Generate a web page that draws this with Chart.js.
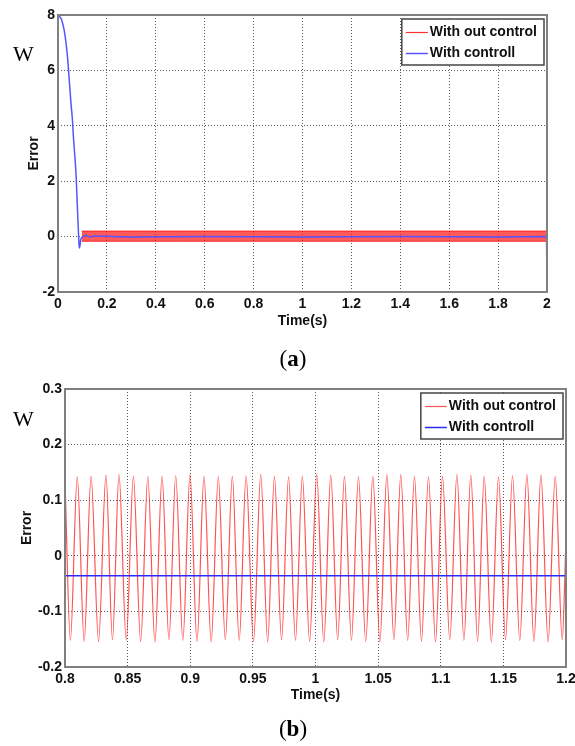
<!DOCTYPE html>
<html>
<head>
<meta charset="utf-8">
<style>
  html, body { margin: 0; padding: 0; background: #fff; }
  #wrap { position: relative; width: 575px; height: 746px; overflow: hidden; }
  canvas { position: absolute; left: 0; }
  .w { position: absolute; left: 13px; font: 22px/22px "Liberation Serif", "DejaVu Serif", serif; color: #000; }
  .cap { position: absolute; left: 243px; width: 100px; text-align: center; font: 23px/23px "Liberation Serif", "DejaVu Serif", serif; color: #000; }
</style>
</head>
<body>
<div id="wrap">
  <canvas id="chartA" width="575" height="340" style="top:0"></canvas>
  <canvas id="chartB" width="575" height="360" style="top:360px"></canvas>
  <div class="w" style="top:43px">W</div>
  <div class="w" style="top:408px">W</div>
  <div class="cap" style="top:347px">(<b>a</b>)</div>
  <div class="cap" style="top:717px">(<b>b</b>)</div>
</div>

<script src="https://cdn.jsdelivr.net/npm/chart.js"></script>
<script>
// legend names, same for both panels
var seriesNames = ['With out control', 'With controll'];

// ---- panel (a): 0..2 s ----
var aXTickVals = [0, 0.2, 0.4, 0.6, 0.8, 1, 1.2, 1.4, 1.6, 1.8, 2];
var aXTickLabels = ['0', '0.2', '0.4', '0.6', '0.8', '1', '1.2', '1.4', '1.6', '1.8', '2'];
var aYTickVals = [-2, 0, 2, 4, 6, 8];
var aYTickLabels = ['-2', '0', '2', '4', '6', '8'];

// with control (blue)
var aBlueTimes = [0, 0.008, 0.015, 0.025, 0.033, 0.040, 0.044, 0.048, 0.053, 0.059, 0.063, 0.068, 0.074, 0.078, 0.082, 0.086, 0.088,
                  0.093, 0.101, 0.115, 0.13, 0.15, 0.30, 0.60, 1.00, 1.40, 1.80, 1.998, 2.0];
var aBlueVals  = [7.98, 7.93, 7.82, 7.46, 6.98, 6.38, 5.9, 5.42, 4.82, 4.22, 3.61, 3.01, 2.2, 1.33, 0.5, -0.29, -0.41,
                  -0.11, -0.01, 0.04, -0.01, 0.02, -0.01, 0.0, -0.01, 0.0, -0.01, 0.0, -2.0];

// without control (red): dense oscillation, drawn as its envelope
var aRedTimes = [0.097, 0.5, 1.0, 1.5, 2.0];
var aRedUpper = [0.2, 0.2, 0.2, 0.2, 0.2];
var aRedLower = [-0.17, -0.17, -0.17, -0.17, -0.17];

// ---- panel (b): zoom 0.8..1.2 s ----
var bXTickVals = [0.8, 0.85, 0.9, 0.95, 1, 1.05, 1.1, 1.15, 1.2];
var bXTickLabels = ['0.8', '0.85', '0.9', '0.95', '1', '1.05', '1.1', '1.15', '1.2'];
var bYTickVals = [-0.2, -0.1, 0, 0.1, 0.2, 0.3];
var bYTickLabels = ['-0.2', '-0.1', '0', '0.1', '0.2', '0.3'];

var bPeakTimes = [0.8098, 0.8208, 0.8327, 0.8431, 0.8546, 0.8661, 0.8775, 0.8884, 0.8998, 0.9110,
                  0.9224, 0.9336, 0.9446, 0.9563, 0.9672, 0.9785, 0.9895, 1.0010, 1.0122, 1.0231,
                  1.0343, 1.0458, 1.0570, 1.0681, 1.0790, 1.0902, 1.1014, 1.1129, 1.1240, 1.1347,
                  1.1461, 1.1573, 1.1688, 1.1800, 1.1914];
var bPeakVals  = [0.142, 0.143, 0.145, 0.146, 0.143, 0.142, 0.143, 0.144, 0.146, 0.143,
                  0.142, 0.143, 0.144, 0.146, 0.143, 0.142, 0.143, 0.146, 0.145, 0.143,
                  0.142, 0.143, 0.146, 0.146, 0.143, 0.142, 0.143, 0.146, 0.145, 0.143,
                  0.142, 0.144, 0.146, 0.145, 0.143];
var bTroughTimes = [0.8043, 0.8153, 0.8268, 0.8379, 0.8489, 0.8604, 0.8718, 0.8830, 0.8941, 0.9054,
                    0.9167, 0.9280, 0.9391, 0.9505, 0.9618, 0.9729, 0.9840, 0.9953, 1.0066, 1.0177,
                    1.0287, 1.0401, 1.0514, 1.0626, 1.0736, 1.0846, 1.0958, 1.1072, 1.1185, 1.1294,
                    1.1404, 1.1517, 1.1631, 1.1744, 1.1857, 1.1970];
var bTroughVals  = [-0.152, -0.154, -0.154, -0.151, -0.152, -0.154, -0.155, -0.151, -0.152, -0.154,
                    -0.155, -0.151, -0.152, -0.154, -0.155, -0.151, -0.152, -0.154, -0.155, -0.151,
                    -0.152, -0.154, -0.155, -0.151, -0.152, -0.154, -0.155, -0.151, -0.152, -0.154,
                    -0.155, -0.151, -0.152, -0.154, -0.155, -0.151];
var bRedEdgeTimes = [0.8, 1.2];
var bRedEdgeVals  = [0.135, 0.03];

var bBlueTimes = [0.8, 1.2];
var bBlueVals  = [-0.036, -0.036];

function toXY(ts, vs) {
    return ts.map(function (t, i) { return { x: t, y: vs[i] }; });
}

var tickFont = { family: '"Liberation Sans", Arial, sans-serif', size: 14, weight: 'bold' };
var gridColor = 'rgba(0,0,0,0.65)';

// grey box round the plot area, like matlab axes
var framePlugin = {
    id: 'frame',
    afterDatasetsDraw: function (chart) {
        var a = chart.chartArea, ctx = chart.ctx;
        ctx.save();
        ctx.strokeStyle = '#808080';
        ctx.lineWidth = 2;
        ctx.strokeRect(a.left, a.top, a.right - a.left, a.bottom - a.top);
        ctx.restore();
    }
};

// legend box inside the top-right corner
var boxLegend = {
    id: 'boxLegend',
    afterDraw: function (chart, args, opts) {
        var ctx = chart.ctx, a = chart.chartArea;
        var items = opts.labels.map(function (lbl) {
            var ds = chart.data.datasets.find(function (d) { return d.label === lbl; });
            return { text: lbl, color: ds.legendColor || ds.borderColor, width: ds.borderWidth };
        });
        ctx.save();
        ctx.font = 'bold 14px "Liberation Sans", Arial, sans-serif';
        var tw = Math.max.apply(null, items.map(function (it) { return ctx.measureText(it.text).width; }));
        var w = 4 + 22 + 2 + tw + 7, h = 46;
        var x = a.right - 3 - w, y = a.top + 4;
        ctx.fillStyle = '#fff';
        ctx.fillRect(x, y, w, h);
        ctx.strokeStyle = '#444';
        ctx.lineWidth = 1.5;
        ctx.strokeRect(x, y, w, h);
        items.forEach(function (it, i) {
            var cy = Math.round(y + 12.5 + i * 21.5) + 0.5;
            ctx.strokeStyle = it.color;
            ctx.lineWidth = Math.max(it.width, 1.2);
            ctx.beginPath();
            ctx.moveTo(x + 4, cy);
            ctx.lineTo(x + 26, cy);
            ctx.stroke();
            ctx.fillStyle = '#111';
            ctx.textBaseline = 'middle';
            ctx.textAlign = 'left';
            ctx.fillText(it.text, x + 28, cy);
        });
        ctx.restore();
    }
};

function makeScales(o) {
    return {
        x: {
            type: 'linear', min: o.xMin, max: o.xMax,
            afterBuildTicks: function (s) { s.ticks = o.xTicks.map(function (v) { return { value: v }; }); },
            afterFit: function (s) { s.height = o.xHeight; s.paddingLeft = 0; s.paddingRight = 0; },
            ticks: {
                padding: 4, color: '#111', font: tickFont, maxRotation: 0, autoSkip: false,
                callback: function (v, i) { return o.xLabels[i]; }
            },
            grid: { color: gridColor, drawTicks: false, lineWidth: 1 },
            border: { display: false, dash: [1, 2] },
            title: { display: true, text: 'Time(s)', color: '#111', font: tickFont, padding: { top: 0, bottom: o.xTitlePad } }
        },
        y: {
            type: 'linear', min: o.yMin, max: o.yMax,
            afterBuildTicks: function (s) { s.ticks = o.yTicks.map(function (v) { return { value: v }; }); },
            afterFit: function (s) { s.width = o.yWidth; },
            ticks: {
                padding: 3, color: '#111', font: tickFont, autoSkip: false,
                callback: function (v, i) { return o.yLabels[i]; }
            },
            grid: { color: gridColor, drawTicks: false, lineWidth: 1 },
            border: { display: false, dash: [1, 2] },
            title: { display: true, text: 'Error', color: '#111', font: tickFont, padding: { top: o.yTitlePad, bottom: 0 } }
        }
    };
}

new Chart(document.getElementById('chartA').getContext('2d'), {
    type: 'line',
    data: {
        datasets: [
            { label: seriesNames[1], data: toXY(aBlueTimes, aBlueVals), borderColor: 'rgb(85,85,255)', borderWidth: 1.5,
              pointRadius: 0, cubicInterpolationMode: 'monotone', fill: false, order: 0 },
            { label: seriesNames[0], data: toXY(aRedTimes, aRedUpper), borderColor: 'rgba(255,0,0,0.7)', borderWidth: 1,
              legendColor: '#ff3030', pointRadius: 0, fill: false, order: 1 },
            { label: '', data: toXY(aRedTimes, aRedLower), borderColor: 'rgba(255,0,0,0.7)', borderWidth: 1,
              pointRadius: 0, fill: '-1', backgroundColor: 'rgba(255,25,25,0.72)', order: 2 }
        ]
    },
    options: {
        responsive: false,
        animation: false,
        layout: { padding: { top: 15, right: 28, left: 0, bottom: 0 } },
        scales: makeScales({
            xMin: 0, xMax: 2, xTicks: aXTickVals, xLabels: aXTickLabels, xHeight: 48, xTitlePad: 10,
            yMin: -2, yMax: 8, yTicks: aYTickVals, yLabels: aYTickLabels, yWidth: 58, yTitlePad: 26
        }),
        plugins: {
            legend: { display: false },
            tooltip: { enabled: false },
            boxLegend: { labels: seriesNames }
        }
    },
    plugins: [framePlugin, boxLegend]
});

// red series of (b): peaks and troughs put in time order
var bRedPoints = toXY(bRedEdgeTimes, bRedEdgeVals)
    .concat(toXY(bPeakTimes, bPeakVals), toXY(bTroughTimes, bTroughVals))
    .sort(function (p, q) { return p.x - q.x; });

new Chart(document.getElementById('chartB').getContext('2d'), {
    type: 'line',
    data: {
        datasets: [
            { label: seriesNames[1], data: toXY(bBlueTimes, bBlueVals), borderColor: '#2a2aff', borderWidth: 1.5,
              pointRadius: 0, fill: false, order: 0 },
            { label: seriesNames[0], data: bRedPoints, borderColor: 'rgba(255,40,40,0.8)', borderWidth: 1.2,
              pointRadius: 0, cubicInterpolationMode: 'monotone', fill: false, order: 1 }
        ]
    },
    options: {
        responsive: false,
        animation: false,
        layout: { padding: { top: 29, right: 9, left: 0, bottom: 0 } },
        scales: makeScales({
            xMin: 0.8, xMax: 1.2, xTicks: bXTickVals, xLabels: bXTickLabels, xHeight: 53, xTitlePad: 16,
            yMin: -0.2, yMax: 0.3, yTicks: bYTickVals, yLabels: bYTickLabels, yWidth: 65, yTitlePad: 19
        }),
        plugins: {
            legend: { display: false },
            tooltip: { enabled: false },
            boxLegend: { labels: seriesNames }
        }
    },
    plugins: [framePlugin, boxLegend]
});
</script>
</body>
</html>
